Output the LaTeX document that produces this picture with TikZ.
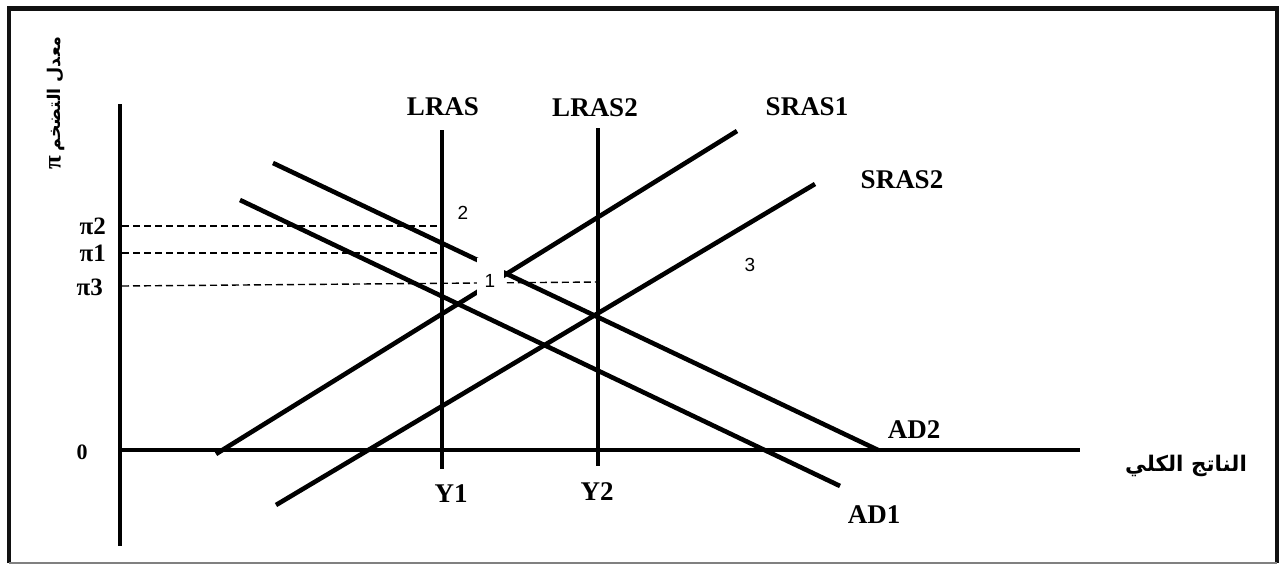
\documentclass[tikz,border=0pt]{standalone}
\usepackage{fontspec}
\setmainfont{Liberation Serif}
\setsansfont{Liberation Sans}
\newfontfamily\arabicfont[Script=Arabic]{DejaVu Sans}
\TeXXeTstate=1
\usetikzlibrary{positioning}
\definecolor{inkc}{HTML}{000000}
\definecolor{framec}{HTML}{111111}
\tikzset{
  axis/.style={line width=4.6pt,inkc},
  curve/.style={line width=4.6pt,inkc},
  guide/.style={dash pattern=on 7pt off 4pt,line width=1.4pt,inkc},
  lbl/.style={font=\bfseries\fontsize{27}{27}\selectfont,inner sep=0pt},
  pilbl/.style={font=\bfseries\fontsize{25}{25}\selectfont,inner sep=0pt,anchor=east},
  ptlbl/.style={font=\sffamily\fontsize{19}{19}\selectfont,inner sep=0pt}
}

\begin{document}
\begin{tikzpicture}[x=1pt,y=-1pt]
\useasboundingbox (0,0) rectangle (1281,565);
% frame
\draw[line width=4.5pt,framec] (9,563) -- (9,8.5) -- (1277,8.5) -- (1277,563);
\draw[line width=1.5pt,gray] (9,563) -- (1277,563);
% axes
\coordinate (ytop) at (120,104);
\coordinate (ybot) at (120,546);
\coordinate (orig) at (120,450);
\coordinate (xend) at (1080,450);
\draw[axis] (ytop) -- (ybot);
\draw[axis] (orig) -- (xend);
% long run supply
\coordinate (lras1t) at (442,130);
\coordinate (lras1b) at (442,469);
\coordinate (lras2t) at (598,128);
\coordinate (lras2b) at (598,466);
\draw[curve] (lras1t) -- (lras1b);
\draw[curve] (lras2t) -- (lras2b);
% short run supply and demand
\coordinate (sras1a) at (216,454);
\coordinate (sras1b) at (737,131);
\coordinate (sras2a) at (276,505);
\coordinate (sras2b) at (815,184);
\coordinate (ad1a) at (240,200);
\coordinate (ad1b) at (840,486);
\coordinate (ad2a) at (273,163);
\coordinate (ad2b) at (878,450);
\draw[curve] (sras1a) -- (sras1b);
\draw[curve] (sras2a) -- (sras2b);
\draw[curve] (ad1a) -- (ad1b);
\draw[curve] (ad2a) -- (ad2b);
% inflation levels
\coordinate (p2a) at (122,226);
\coordinate (p2b) at (442,226);
\coordinate (p1a) at (122,253);
\coordinate (p1b) at (442,253);
\coordinate (p3a) at (122,286);
\coordinate (p3b) at (598,282);
\draw[guide] (p2a) -- (p2b);
\draw[guide] (p1a) -- (p1b);
\draw[guide] (p3a) -- (p3b);
% points
\node[ptlbl,fill=white,minimum width=27pt,minimum height=38pt] (e1) at (490,277) {};
\node[ptlbl] at (490,281) {1};
\node[ptlbl] (e2) at (463,213) {2};
\node[ptlbl] (e3) at (750,265) {3};
% labels
\node[lbl] (lras1) at (443,107) {LRAS};
\node[lbl] (lras2) at (595,108) {LRAS2};
\node[lbl] (sras1) at (807,107) {SRAS1};
\node[lbl] (sras2) at (902,180) {SRAS2};
\node[lbl] (ad2) at (914,430) {AD2};
\node[lbl] (ad1) at (874,515) {AD1};
\node[lbl] (y1) at (451,494) {Y1};
\node[lbl] (y2) at (597,492) {Y2};
\node[pilbl] (pi2) at (106,226) {π2};
\node[pilbl] (pi1) at (106,253) {π1};
\node[pilbl] (pi3) at (103,287) {π3};
\node[lbl,font=\bfseries\fontsize{22}{22}\selectfont] (zero) at (82,452) {0};
\node[inner sep=0pt,font=\fontsize{21.5}{21.5}\selectfont] (xlab) at (1186,466)
  {\arabicfont\bfseries\beginR الناتج الكلي\endR};
\node[inner sep=0pt,rotate=90,font=\fontsize{17.5}{17.5}\selectfont] (ylab) at (56,103)
  {{\bfseries\fontsize{25}{25}\selectfont π} {\arabicfont\bfseries\beginR معدل التضخم\endR}};
\end{tikzpicture}
\end{document}
